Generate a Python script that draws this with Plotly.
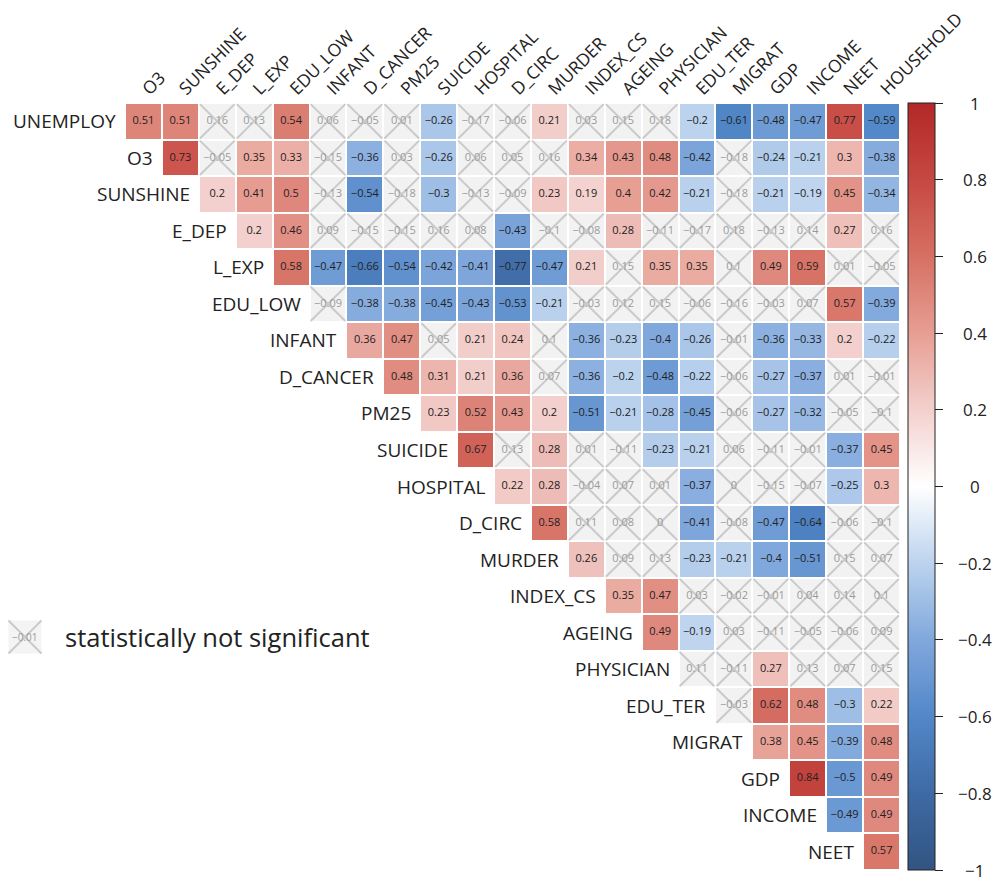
import plotly.graph_objects as go

rows = ["UNEMPLOY", "O3", "SUNSHINE", "E_DEP", "L_EXP", "EDU_LOW", "INFANT", "D_CANCER",
        "PM25", "SUICIDE", "HOSPITAL", "D_CIRC", "MURDER", "INDEX_CS", "AGEING", "PHYSICIAN",
        "EDU_TER", "MIGRAT", "GDP", "INCOME", "NEET"]
cols = ["O3", "SUNSHINE", "E_DEP", "L_EXP", "EDU_LOW", "INFANT", "D_CANCER", "PM25", "SUICIDE",
        "HOSPITAL", "D_CIRC", "MURDER", "INDEX_CS", "AGEING", "PHYSICIAN", "EDU_TER", "MIGRAT",
        "GDP", "INCOME", "NEET", "HOUSEHOLD"]

# correlation values: row i covers columns i..20
r_UNEMPLOY = [0.51, 0.51, 0.16, 0.13, 0.54, 0.06, -0.05, 0.01, -0.26, -0.17, -0.06, 0.21, 0.03, 0.15, 0.18, -0.2, -0.61, -0.48, -0.47, 0.77, -0.59]
r_O3 = [0.73, -0.05, 0.35, 0.33, -0.15, -0.36, 0.03, -0.26, 0.06, 0.05, 0.16, 0.34, 0.43, 0.48, -0.42, -0.18, -0.24, -0.21, 0.3, -0.38]
r_SUNSHINE = [0.2, 0.41, 0.5, -0.13, -0.54, -0.18, -0.3, -0.13, -0.09, 0.23, 0.19, 0.4, 0.42, -0.21, -0.18, -0.21, -0.19, 0.45, -0.34]
r_E_DEP = [0.2, 0.46, 0.09, -0.15, -0.15, 0.16, 0.08, -0.43, -0.1, -0.08, 0.28, -0.11, -0.17, 0.18, -0.13, 0.14, 0.27, 0.16]
r_L_EXP = [0.58, -0.47, -0.66, -0.54, -0.42, -0.41, -0.77, -0.47, 0.21, 0.15, 0.35, 0.35, 0.1, 0.49, 0.59, 0.01, -0.05]
r_EDU_LOW = [-0.09, -0.38, -0.38, -0.45, -0.43, -0.53, -0.21, -0.03, 0.12, 0.15, -0.06, -0.16, -0.03, 0.07, 0.57, -0.39]
r_INFANT = [0.36, 0.47, 0.05, 0.21, 0.24, 0.1, -0.36, -0.23, -0.4, -0.26, -0.01, -0.36, -0.33, 0.2, -0.22]
r_D_CANCER = [0.48, 0.31, 0.21, 0.36, 0.07, -0.36, -0.2, -0.48, -0.22, -0.06, -0.27, -0.37, 0.01, -0.01]
r_PM25 = [0.23, 0.52, 0.43, 0.2, -0.51, -0.21, -0.28, -0.45, -0.06, -0.27, -0.32, -0.05, -0.1]
r_SUICIDE = [0.67, 0.13, 0.28, 0.01, -0.11, -0.23, -0.21, 0.06, -0.11, -0.01, -0.37, 0.45]
r_HOSPITAL = [0.22, 0.28, -0.04, 0.07, 0.01, -0.37, 0, -0.15, -0.07, -0.25, 0.3]
r_D_CIRC = [0.58, 0.11, 0.08, 0, -0.41, -0.08, -0.47, -0.64, -0.06, -0.1]
r_MURDER = [0.26, 0.09, 0.13, -0.23, -0.21, -0.4, -0.51, 0.15, 0.07]
r_INDEX_CS = [0.35, 0.47, 0.03, -0.02, -0.01, 0.04, 0.14, 0.1]
r_AGEING = [0.49, -0.19, 0.03, -0.11, -0.05, -0.06, 0.09]
r_PHYSICIAN = [0.11, -0.11, 0.27, 0.13, 0.07, 0.15]
r_EDU_TER = [-0.03, 0.62, 0.48, -0.3, 0.22]
r_MIGRAT = [0.38, 0.45, -0.39, 0.48]
r_GDP = [0.84, -0.5, 0.49]
r_INCOME = [-0.49, 0.49]
r_NEET = [0.57]

# significance flags (1 = significant, 0 = not significant), aligned with values above
s_UNEMPLOY = [1, 1, 0, 0, 1, 0, 0, 0, 1, 0, 0, 1, 0, 0, 0, 1, 1, 1, 1, 1, 1]
s_O3 = [1, 0, 1, 1, 0, 1, 0, 1, 0, 0, 0, 1, 1, 1, 1, 0, 1, 1, 1, 1]
s_SUNSHINE = [1, 1, 1, 0, 1, 0, 1, 0, 0, 1, 1, 1, 1, 1, 0, 1, 1, 1, 1]
s_E_DEP = [1, 1, 0, 0, 0, 0, 0, 1, 0, 0, 1, 0, 0, 0, 0, 0, 1, 0]
s_L_EXP = [1, 1, 1, 1, 1, 1, 1, 1, 1, 0, 1, 1, 0, 1, 1, 0, 0]
s_EDU_LOW = [0, 1, 1, 1, 1, 1, 1, 0, 0, 0, 0, 0, 0, 0, 1, 1]
s_INFANT = [1, 1, 0, 1, 1, 0, 1, 1, 1, 1, 0, 1, 1, 1, 1]
s_D_CANCER = [1, 1, 1, 1, 0, 1, 1, 1, 1, 0, 1, 1, 0, 0]
s_PM25 = [1, 1, 1, 1, 1, 1, 1, 1, 0, 1, 1, 0, 0]
s_SUICIDE = [1, 0, 1, 0, 0, 1, 1, 0, 0, 0, 1, 1]
s_HOSPITAL = [1, 1, 0, 0, 0, 1, 0, 0, 0, 1, 1]
s_D_CIRC = [1, 0, 0, 0, 1, 0, 1, 1, 0, 0]
s_MURDER = [1, 0, 0, 1, 1, 1, 1, 0, 0]
s_INDEX_CS = [1, 1, 0, 0, 0, 0, 0, 0]
s_AGEING = [1, 1, 0, 0, 0, 0, 0]
s_PHYSICIAN = [0, 0, 1, 0, 0, 0]
s_EDU_TER = [0, 1, 1, 1, 1]
s_MIGRAT = [1, 1, 1, 1]
s_GDP = [1, 1, 1]
s_INCOME = [1, 1]
s_NEET = [1]

values = [r_UNEMPLOY, r_O3, r_SUNSHINE, r_E_DEP, r_L_EXP, r_EDU_LOW, r_INFANT, r_D_CANCER,
          r_PM25, r_SUICIDE, r_HOSPITAL, r_D_CIRC, r_MURDER, r_INDEX_CS, r_AGEING, r_PHYSICIAN,
          r_EDU_TER, r_MIGRAT, r_GDP, r_INCOME, r_NEET]
sigs = [s_UNEMPLOY, s_O3, s_SUNSHINE, s_E_DEP, s_L_EXP, s_EDU_LOW, s_INFANT, s_D_CANCER,
        s_PM25, s_SUICIDE, s_HOSPITAL, s_D_CIRC, s_MURDER, s_INDEX_CS, s_AGEING, s_PHYSICIAN,
        s_EDU_TER, s_MIGRAT, s_GDP, s_INCOME, s_NEET]

cbar_vals = [1, 0.8, 0.6, 0.4, 0.2, 0, -0.2, -0.4, -0.6, -0.8, -1]
legend_example = -0.01
legend_text = "statistically not significant"


def fmt(v):
    s = f"{v:g}"
    return s.replace("-", "\u2212")


n = len(rows)
nan = float("nan")
z_sig = [[nan] * n for _ in range(n)]
z_ns = [[nan] * n for _ in range(n)]
sx, sy, st = [], [], []
nx, ny, nt = [], [], []
lx, ly = [], []
for i in range(n):
    for k, (v, s) in enumerate(zip(values[i], sigs[i])):
        j = i + k
        if s:
            z_sig[i][j] = v
            sx.append(j); sy.append(i); st.append(fmt(v))
        else:
            z_ns[i][j] = 0
            nx.append(j); ny.append(i); nt.append(fmt(v))
            h = 0.47
            lx += [j - h, j + h, None, j - h, j + h, None]
            ly += [i - h, i + h, None, i + h, i - h, None]

colorscale = [
    [0.0, "rgb(50,84,130)"],
    [0.1, "rgb(62,106,164)"],
    [0.2, "rgb(82,135,200)"],
    [0.3, "rgb(128,168,220)"],
    [0.4, "rgb(188,211,238)"],
    [0.5, "rgb(255,255,255)"],
    [0.6, "rgb(243,208,205)"],
    [0.7, "rgb(231,158,147)"],
    [0.8, "rgb(214,112,100)"],
    [0.9, "rgb(198,72,66)"],
    [1.0, "rgb(178,40,40)"],
]

FONT = "Open Sans"
ML, MR, MT, MB = 117, 108, 95, 20
W, H = 1000.0 - ML - MR, 882.0 - MT - MB

fig = go.Figure()
fig.add_trace(go.Heatmap(
    z=z_sig, x=list(range(n)), y=list(range(n)), colorscale=colorscale, zmin=-1, zmax=1,
    xgap=2, ygap=2, hoverinfo="skip",
    colorbar=dict(x=1.01, xanchor="left", y=0.5, yanchor="middle", len=1, lenmode="fraction",
                  thickness=27, xpad=0, ypad=0, outlinecolor="#222", outlinewidth=1,
                  ticks="outside", ticklen=8, tickcolor="#222",
                  tickmode="array", tickvals=cbar_vals, showticklabels=False),
))
fig.add_trace(go.Heatmap(
    z=z_ns, x=list(range(n)), y=list(range(n)),
    colorscale=[[0, "#f2f2f2"], [1, "#f2f2f2"]], showscale=False,
    xgap=2, ygap=2, hoverinfo="skip",
))
fig.add_trace(go.Scatter(x=lx, y=ly, mode="lines", line=dict(color="#cacaca", width=2),
                         hoverinfo="skip", showlegend=False))
fig.add_trace(go.Scatter(x=nx, y=ny, text=nt, mode="text",
                         textfont=dict(size=11, color="#9a9a9a", family=FONT),
                         hoverinfo="skip", showlegend=False))
fig.add_trace(go.Scatter(x=sx, y=sy, text=st, mode="text",
                         textfont=dict(size=11, color="#222", family=FONT),
                         hoverinfo="skip", showlegend=False))

annotations = []
for i, name in enumerate(rows):
    annotations.append(dict(x=i - 0.5, y=i, xref="x", yref="y", text=name, showarrow=False,
                            xanchor="right", yanchor="middle", xshift=-7,
                            font=dict(size=19, color="#222", family=FONT)))

# colorbar tick labels, centred like the reference
for v in cbar_vals:
    annotations.append(dict(x=(967 - ML) / W, y=(v + 1) / 2, xref="paper", yref="paper",
                            text=fmt(v), showarrow=False, xanchor="center", yanchor="middle",
                            font=dict(size=17, color="#222", family=FONT)))

# legend for non-significant cells (pixel positions converted to paper units)
cx, cy = (17 - ML) / W, 1 - (629 - MT) / H
hw, hh = 16.5 / W, 16.5 / H
annotations.append(dict(x=(55 - ML) / W, y=cy, xref="paper", yref="paper", text=legend_text,
                        showarrow=False, xanchor="left", yanchor="middle",
                        font=dict(size=25.5, color="#222", family=FONT)))
annotations.append(dict(x=cx, y=cy, xref="paper", yref="paper", text=fmt(legend_example),
                        showarrow=False, xanchor="center", yanchor="middle",
                        font=dict(size=10, color="#9a9a9a", family=FONT)))
shapes = [
    dict(type="rect", xref="paper", yref="paper", x0=cx - hw, x1=cx + hw, y0=cy - hh, y1=cy + hh,
         fillcolor="#f4f4f4", line=dict(width=0), layer="below"),
    dict(type="line", xref="paper", yref="paper", x0=cx - hw, x1=cx + hw, y0=cy - hh, y1=cy + hh,
         line=dict(color="#cacaca", width=2)),
    dict(type="line", xref="paper", yref="paper", x0=cx - hw, x1=cx + hw, y0=cy + hh, y1=cy - hh,
         line=dict(color="#cacaca", width=2)),
]

fig.update_layout(
    width=1000, height=882,
    margin=dict(l=ML, r=MR, t=MT, b=MB),
    paper_bgcolor="white", plot_bgcolor="white",
    showlegend=False,
    annotations=annotations,
    shapes=shapes,
    xaxis=dict(range=[-0.5, n - 0.5], side="top", tickmode="array", tickvals=list(range(n)),
               ticktext=cols, tickangle=-45, showgrid=False, zeroline=False, ticks="",
               showline=False, automargin=False,
               tickfont=dict(size=17.5, color="#222", family=FONT)),
    yaxis=dict(range=[n - 0.5, -0.5], visible=False, showgrid=False, zeroline=False),
)

fig.write_html("out.html")
